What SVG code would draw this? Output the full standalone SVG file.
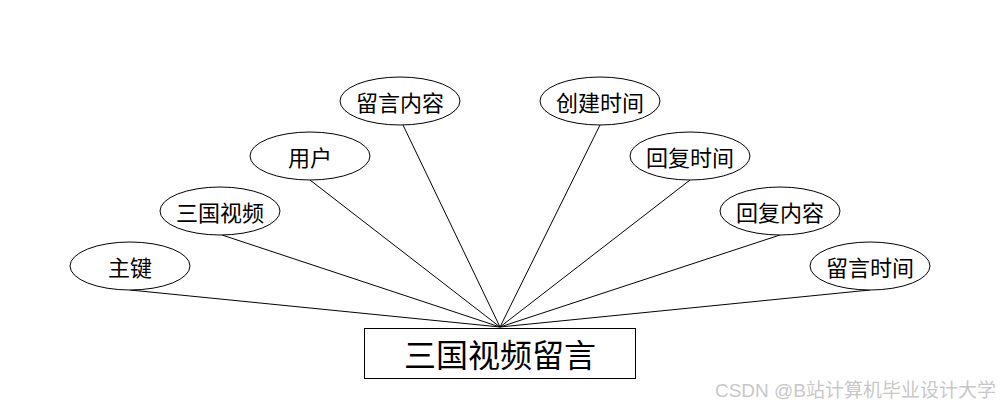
<svg xmlns="http://www.w3.org/2000/svg" width="1000" height="408" viewBox="0 0 1000 408">
<style>
.attr ellipse{fill:#fff;stroke:#000;stroke-width:1}
.attr text{font-family:"Noto Sans CJK SC","Liberation Sans",sans-serif;font-size:22px;text-anchor:middle;dominant-baseline:central;fill:#000}
#conn line{stroke:#000;stroke-width:1}
</style>
<rect width="1000" height="408" fill="#fff"/>
<g id="conn">
<line x1="130" y1="290" x2="500" y2="327"/>
<line x1="222" y1="235" x2="500" y2="327"/>
<line x1="310" y1="180" x2="500" y2="327"/>
<line x1="403" y1="125" x2="500" y2="327"/>
<line x1="600" y1="125" x2="500" y2="327"/>
<line x1="690" y1="180" x2="500" y2="327"/>
<line x1="780" y1="235" x2="500" y2="327"/>
<line x1="870" y1="290" x2="500" y2="327"/>
</g>
<g id="entity">
<rect x="364.500" y="328.500" width="271" height="50" fill="#fff" stroke="#000"/>
<text x="500" y="353" font-family="Noto Sans CJK SC,Liberation Sans,sans-serif" font-size="32" text-anchor="middle" dominant-baseline="central">三国视频留言</text>
</g>
<g id="a1" class="attr"><ellipse cx="130" cy="266" rx="60" ry="24"/><text x="130" y="266">主键</text></g>
<g id="a2" class="attr"><ellipse cx="220" cy="211" rx="60" ry="24"/><text x="220" y="211">三国视频</text></g>
<g id="a3" class="attr"><ellipse cx="310" cy="156" rx="60" ry="24"/><text x="310" y="156">用户</text></g>
<g id="a4" class="attr"><ellipse cx="400" cy="101" rx="60" ry="24"/><text x="400" y="101">留言内容</text></g>
<g id="a5" class="attr"><ellipse cx="600" cy="101" rx="60" ry="24"/><text x="600" y="101">创建时间</text></g>
<g id="a6" class="attr"><ellipse cx="690" cy="156" rx="60" ry="24"/><text x="690" y="156">回复时间</text></g>
<g id="a7" class="attr"><ellipse cx="780" cy="211" rx="60" ry="24"/><text x="780" y="211">回复内容</text></g>
<g id="a8" class="attr"><ellipse cx="870" cy="266" rx="60" ry="24"/><text x="870" y="266">留言时间</text></g>
<text x="996" y="390" font-family="Liberation Sans,Noto Sans CJK SC,sans-serif" font-size="19" text-anchor="end" dominant-baseline="central" fill="#c8c8c8">CSDN @B站计算机毕业设计大学</text>
</svg>
